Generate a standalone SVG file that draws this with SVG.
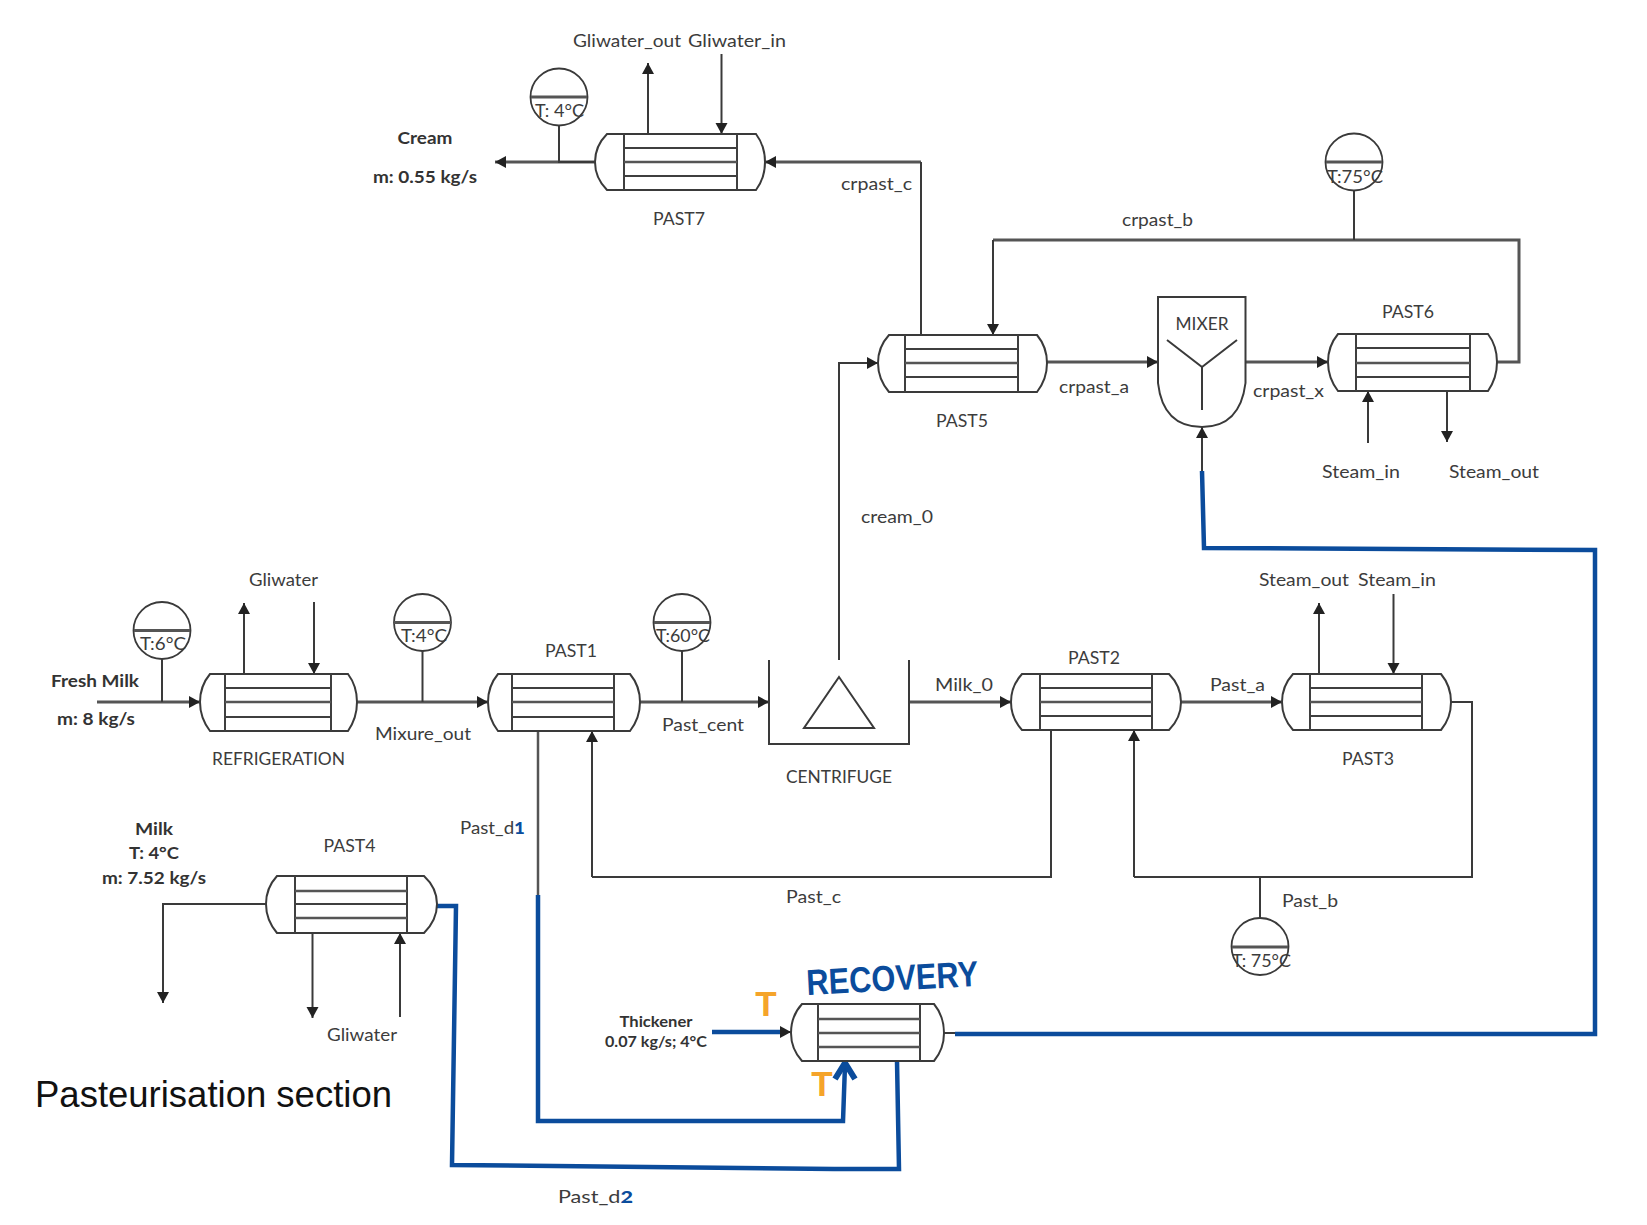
<svg xmlns="http://www.w3.org/2000/svg" width="1647" height="1225" viewBox="0 0 1647 1225">
<style>
.bg{fill:#fff}
.hx{fill:#fff;stroke:#3a3a3a;stroke-width:2}
.tube{stroke:#3f3f3f;stroke-width:2;fill:none}
.tube2{stroke:#555;stroke-width:2.6;fill:none}
.line{stroke:#3a3a3a;stroke-width:2;fill:none}
.heavy{stroke:#555;stroke-width:3;fill:none}
.blue{stroke:#0b4c9c;stroke-width:4.5;fill:none}
.inst{fill:#fff;stroke:#3a3a3a;stroke-width:1.8}
.div{stroke:#555;stroke-width:3}
text{font-family:"Lato","Open Sans","Liberation Sans",sans-serif;font-size:17.5px;fill:#3c3c3c}
.c{text-anchor:middle}
.b{font-weight:700;fill:#333}
.d{fill:#0b4c9c;font-weight:900}
.o{font-family:"Liberation Sans",sans-serif;font-weight:700;font-size:35px;fill:#f5a42a;text-anchor:middle}
</style>
<defs>
<marker id="a" markerUnits="userSpaceOnUse" markerWidth="12" markerHeight="14" refX="11" refY="7" orient="auto"><path d="M0,1L11,7L0,13z" fill="#222"/></marker>
</defs>
<rect class="bg" width="1647" height="1225"/>

<g id="connectors">
<path class="heavy" d="M595,162H495" marker-end="url(#a)"/>
<path class="line" d="M559,125V162H595"/>
<path class="line" d="M648,134V63" marker-end="url(#a)"/>
<path class="line" d="M721.500,54V134" marker-end="url(#a)"/>
<path class="heavy" d="M921,162H765" marker-end="url(#a)"/>
<path class="line" d="M921,162V335"/>
<path class="line" d="M839,660V363H878" marker-end="url(#a)"/>
<path class="heavy" d="M1497,362H1519V240H993"/>
<path class="line" d="M993,240V335" marker-end="url(#a)"/>
<path class="line" d="M1354,190V240"/>
<path class="heavy" d="M1047,362H1158" marker-end="url(#a)"/>
<path class="heavy" d="M1245,362H1328" marker-end="url(#a)"/>
<path class="line" d="M1368,443V391" marker-end="url(#a)"/>
<path class="line" d="M1447,391V442" marker-end="url(#a)"/>
<path class="line" d="M1202,472V427" marker-end="url(#a)"/>
<path class="blue" d="M1202,471L1204,548L1595,550L1595,1034L955,1034"/>
<path class="line" d="M944,1033H955"/>
<path class="heavy" d="M97,702H200" marker-end="url(#a)"/>
<path class="line" d="M162,659V702"/>
<path class="line" d="M244,674V603" marker-end="url(#a)"/>
<path class="line" d="M314,602V674" marker-end="url(#a)"/>
<path class="heavy" d="M357,702H488" marker-end="url(#a)"/>
<path class="line" d="M422.500,651V702"/>
<path class="heavy" d="M640,702H769" marker-end="url(#a)"/>
<path class="line" d="M682,651V702"/>
<path class="heavy" d="M909,702H1011" marker-end="url(#a)"/>
<path class="heavy" d="M1181,702H1282" marker-end="url(#a)"/>
<path class="line" d="M1319,674V603" marker-end="url(#a)"/>
<path class="line" d="M1393.500,594V674" marker-end="url(#a)"/>
<path class="line" d="M1451,702H1472V877H1134"/>
<path class="line" d="M1134,877V730" marker-end="url(#a)"/>
<path class="line" d="M1260,877V918"/>
<path class="line" d="M1051,730V877H592"/>
<path class="line" d="M592,877V731" marker-end="url(#a)"/>
<path class="heavy" d="M538,731V895" style="stroke-width:2.500"/>
<path class="blue" d="M538,895V1121L843,1121L845,1065"/>
<path class="blue" d="M835,1079L845,1063L855,1079" style="stroke-width:6"/>
<path class="line" d="M266,904H163V1003" marker-end="url(#a)"/>
<path class="line" d="M312.500,933V1018" marker-end="url(#a)"/>
<path class="line" d="M400,1017V933" marker-end="url(#a)"/>
<path class="blue" d="M437,906H456L452,1165L834,1169H899L897,1061"/>
<path class="blue" d="M712,1032H785"/>
<path class="line" d="M780,1032H791" marker-end="url(#a)"/>
</g>

<g id="past7">
<path class="hx" d="M607,134H756Q765,146 765,162Q765,178 756,190H607Q595,178 595,162Q595,146 607,134Z"/>
<path class="tube" d="M624,134V190M737,134V190M624,148H737M624,176H737"/><path class="tube2" d="M624,162H737"/>
<text class="c" x="679" y="225" textLength="52" lengthAdjust="spacingAndGlyphs">PAST7</text>
</g>
<g id="temp-cream">
<circle class="inst" cx="559" cy="97" r="28.500"/><path class="div" d="M531,97H587"/>
<text x="535" y="117" textLength="49" lengthAdjust="spacingAndGlyphs">T: 4°C</text>
</g>
<g id="past5">
<path class="hx" d="M889,335H1037Q1047,347 1047,363Q1047,379 1037,392H889Q878,379 878,363Q878,347 889,335Z"/>
<path class="tube" d="M905,335V392M1018,335V392M905,349H1018M905,377H1018"/><path class="tube2" d="M905,363H1018"/>
<text class="c" x="962" y="427" textLength="52" lengthAdjust="spacingAndGlyphs">PAST5</text>
</g>
<g id="mixer">
<path class="hx" d="M1158,297H1245.500V383Q1240,427 1202,427Q1163,427 1158,383Z"/>
<path class="line" d="M1167,340L1202,367L1237,340M1202,367V410"/>
<text class="c" x="1202" y="330" textLength="53" lengthAdjust="spacingAndGlyphs">MIXER</text>
</g>
<g id="past6">
<path class="hx" d="M1338,334H1488Q1497,346 1497,362Q1497,378 1488,391H1338Q1328,378 1328,362Q1328,346 1338,334Z"/>
<path class="tube" d="M1356,334V391M1470,334V391M1356,348H1470M1356,377H1470"/><path class="tube2" d="M1356,363H1470"/>
<text class="c" x="1408" y="318" textLength="52" lengthAdjust="spacingAndGlyphs">PAST6</text>
</g>
<g id="temp-crpast-b">
<circle class="inst" cx="1354" cy="162" r="28.500"/><path class="div" d="M1326,162H1382"/>
<text x="1327" y="183" textLength="56" lengthAdjust="spacingAndGlyphs">T:75°C</text>
</g>
<g id="refrigeration">
<path class="hx" d="M210,674H348Q357,686 357,702Q357,718 348,731H210Q200,718 200,702Q200,686 210,674Z"/>
<path class="tube" d="M225,674V731M331,674V731M225,688H331M225,717H331"/><path class="tube2" d="M225,702H331"/>
<text x="212" y="765" textLength="133" lengthAdjust="spacingAndGlyphs">REFRIGERATION</text>
</g>
<g id="temp-fresh">
<circle class="inst" cx="162" cy="630.500" r="28.500"/><path class="div" d="M134,630.500H190"/>
<text x="140" y="650" textLength="46" lengthAdjust="spacingAndGlyphs">T:6°C</text>
</g>
<g id="temp-mixure">
<circle class="inst" cx="422.500" cy="622.500" r="28.500"/><path class="div" d="M394,622.500H451"/>
<text x="401" y="642" textLength="46" lengthAdjust="spacingAndGlyphs">T:4°C</text>
</g>
<g id="past1">
<path class="hx" d="M498,674H630Q640,686 640,702Q640,718 630,731H498Q488,718 488,702Q488,686 498,674Z"/>
<path class="tube" d="M512,674V731M614,674V731M512,688H614M512,717H614"/><path class="tube2" d="M512,702H614"/>
<text class="c" x="571" y="657" textLength="52" lengthAdjust="spacingAndGlyphs">PAST1</text>
</g>
<g id="temp-cent">
<circle class="inst" cx="682" cy="622.500" r="28.500"/><path class="div" d="M654,622.500H710"/>
<text x="656" y="642" textLength="54" lengthAdjust="spacingAndGlyphs">T:60°C</text>
</g>
<g id="centrifuge">
<path class="line" d="M769,660V744H909V660"/>
<path class="line" d="M839,677L874,728H804Z"/>
<text class="c" x="839" y="783" textLength="106" lengthAdjust="spacingAndGlyphs">CENTRIFUGE</text>
</g>
<g id="past2">
<path class="hx" d="M1022,674H1169Q1181,686 1181,702Q1181,718 1169,730H1022Q1011,718 1011,702Q1011,686 1022,674Z"/>
<path class="tube" d="M1040,674V730M1152,674V730M1040,688H1152M1040,716H1152"/><path class="tube2" d="M1040,702H1152"/>
<text class="c" x="1094" y="664" textLength="52" lengthAdjust="spacingAndGlyphs">PAST2</text>
</g>
<g id="past3">
<path class="hx" d="M1293,674H1441Q1451,686 1451,702Q1451,718 1441,730H1293Q1282,718 1282,702Q1282,686 1293,674Z"/>
<path class="tube" d="M1310,674V730M1422,674V730M1310,688H1422M1310,716H1422"/><path class="tube2" d="M1310,702H1422"/>
<text class="c" x="1368" y="765" textLength="52" lengthAdjust="spacingAndGlyphs">PAST3</text>
</g>
<g id="temp-past-b">
<circle class="inst" cx="1260" cy="946.500" r="28.500"/><path class="div" d="M1232,947H1288"/>
<text x="1232" y="967" textLength="59" lengthAdjust="spacingAndGlyphs">T: 75°C</text>
</g>
<g id="past4">
<path class="hx" d="M277,876H424Q437,888 437,904Q437,920 424,933H277Q266,920 266,904Q266,888 277,876Z"/>
<path class="tube" d="M295,876V933M407,876V933M295,904H407"/><path class="tube2" d="M295,891H407M295,918H407"/>
<text class="c" x="349.500" y="852" textLength="52" lengthAdjust="spacingAndGlyphs">PAST4</text>
</g>
<g id="recovery">
<path class="hx" d="M802,1004H934Q944,1016 944,1033Q944,1049 934,1061H802Q791,1049 791,1033Q791,1016 802,1004Z"/>
<path class="tube" d="M818,1004V1061M920,1004V1061"/><path class="tube2" d="M818,1019H920M818,1033H920M818,1047H920"/>
<text x="807" y="995" transform="rotate(-3 807 995)" textLength="172" lengthAdjust="spacingAndGlyphs" style="font-family:'Liberation Sans',sans-serif;font-size:36px;font-weight:700;fill:#0b4c9c">RECOVERY</text>
<text class="o" x="766" y="1016">T</text>
<text class="o" x="822" y="1096">T</text>
</g>

<g id="labels">
<text x="573" y="47" textLength="108" lengthAdjust="spacingAndGlyphs">Gliwater_out</text>
<text x="688" y="47" textLength="98" lengthAdjust="spacingAndGlyphs">Gliwater_in</text>
<text class="c b" x="425" y="144" textLength="55" lengthAdjust="spacingAndGlyphs">Cream</text>
<text class="c b" x="425" y="183" textLength="104" lengthAdjust="spacingAndGlyphs">m: 0.55 kg/s</text>
<text x="841" y="190" textLength="71" lengthAdjust="spacingAndGlyphs">crpast_c</text>
<text x="1122" y="226" textLength="71" lengthAdjust="spacingAndGlyphs">crpast_b</text>
<text x="1059" y="393" textLength="70" lengthAdjust="spacingAndGlyphs">crpast_a</text>
<text x="1253" y="397" textLength="71" lengthAdjust="spacingAndGlyphs">crpast_x</text>
<text x="1322" y="478" textLength="78" lengthAdjust="spacingAndGlyphs">Steam_in</text>
<text x="1449" y="478" textLength="90" lengthAdjust="spacingAndGlyphs">Steam_out</text>
<text x="861" y="523" textLength="72" lengthAdjust="spacingAndGlyphs">cream_0</text>
<text x="249" y="586" textLength="69" lengthAdjust="spacingAndGlyphs">Gliwater</text>
<text x="1259" y="586" textLength="90" lengthAdjust="spacingAndGlyphs">Steam_out</text>
<text x="1358" y="586" textLength="78" lengthAdjust="spacingAndGlyphs">Steam_in</text>
<text class="b" x="51" y="687" textLength="88" lengthAdjust="spacingAndGlyphs">Fresh Milk</text>
<text class="b" x="57" y="725" textLength="78" lengthAdjust="spacingAndGlyphs">m: 8 kg/s</text>
<text x="375" y="740" textLength="96" lengthAdjust="spacingAndGlyphs">Mixure_out</text>
<text x="662" y="731" textLength="82" lengthAdjust="spacingAndGlyphs">Past_cent</text>
<text x="935" y="691" textLength="58" lengthAdjust="spacingAndGlyphs">Milk_0</text>
<text x="1210" y="691" textLength="55" lengthAdjust="spacingAndGlyphs">Past_a</text>
<text x="1282" y="907" textLength="56" lengthAdjust="spacingAndGlyphs">Past_b</text>
<text x="786" y="903" textLength="55" lengthAdjust="spacingAndGlyphs">Past_c</text>
<text x="460" y="834" textLength="65" lengthAdjust="spacingAndGlyphs">Past_d<tspan class="d">1</tspan></text>
<text class="c b" x="154" y="835" textLength="38" lengthAdjust="spacingAndGlyphs">Milk</text>
<text class="c b" x="154" y="859" textLength="50" lengthAdjust="spacingAndGlyphs">T: 4°C</text>
<text class="b" x="102" y="884" textLength="104" lengthAdjust="spacingAndGlyphs">m: 7.52 kg/s</text>
<text x="327" y="1041" textLength="70" lengthAdjust="spacingAndGlyphs">Gliwater</text>
<text class="c b" x="656" y="1027" style="font-size:15.500px" textLength="73" lengthAdjust="spacingAndGlyphs">Thickener</text>
<text class="c b" x="656" y="1047" style="font-size:15.500px" textLength="102" lengthAdjust="spacingAndGlyphs">0.07 kg/s; 4°C</text>
<text x="558" y="1203" textLength="75" lengthAdjust="spacingAndGlyphs">Past_d<tspan class="d">2</tspan></text>
<text x="35" y="1107" textLength="357" lengthAdjust="spacingAndGlyphs" style="font-family:'Liberation Sans',sans-serif;font-size:36.500px;fill:#111">Pasteurisation section</text>
</g>
</svg>
